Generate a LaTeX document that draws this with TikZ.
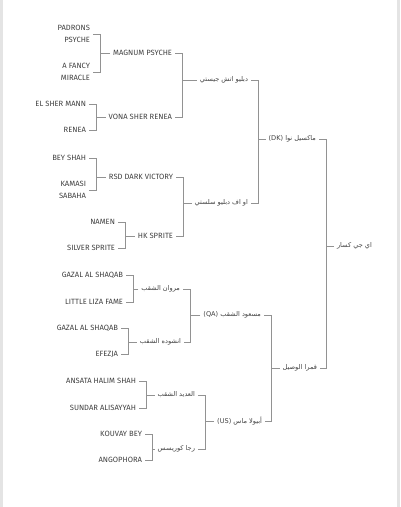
\documentclass[tikz,border=0pt]{standalone}
\usepackage{fontspec}
\setmainfont{Fira Sans}
\newfontfamily\arabicfont[Script=Arabic]{DejaVu Sans}
\TeXXeTstate=1
\usetikzlibrary{calc,positioning}
\definecolor{namegray}{HTML}{404040}
\definecolor{linkgray}{HTML}{929292}
\definecolor{framegray}{HTML}{E4E4E4}
\tikzset{
  horse/.style={font=\fontsize{7.6}{12}\selectfont, text=namegray,
    inner xsep=3pt, inner ysep=1pt, outer sep=0pt, anchor=east},
  arab/.style={horse, font=\arabicfont\fontsize{6.6}{8}\selectfont},
  link/.style={draw=linkgray, line width=0.6pt}
}

\begin{document}
\begin{tikzpicture}[x=1pt, y=-1pt]
  \useasboundingbox (0,0) rectangle (400,507);
  \fill[framegray] (0,0) rectangle (3,507);
  \fill[framegray] (397,0) rectangle (400,507);

  % great-grandparents
  \node[horse, align=right] (padrons) at (93,34) {PADRONS\\PSYCHE};
  \node[horse, align=right] (fancy) at (93,72) {A FANCY\\MIRACLE};
  \node[horse] (shermann) at (89,104) {EL SHER MANN};
  \node[horse] (renea) at (89,130) {RENEA};
  \node[horse] (beyshah) at (89,158) {BEY SHAH};
  \node[horse, align=right] (kamasi) at (89,190) {KAMASI\\SABAHA};
  \node[horse] (namen) at (118,222) {NAMEN};
  \node[horse] (silver) at (118,248) {SILVER SPRITE};
  \node[horse] (gazalA) at (126,275) {GAZAL AL SHAQAB};
  \node[horse] (liza) at (126,302) {LITTLE LIZA FAME};
  \node[horse] (gazalB) at (121,328) {GAZAL AL SHAQAB};
  \node[horse] (efezja) at (121,354) {EFEZJA};
  \node[horse] (ansata) at (139,381) {ANSATA HALIM SHAH};
  \node[horse] (sundar) at (139,408) {SUNDAR ALISAYYAH};
  \node[horse] (kouvay) at (145,434) {KOUVAY BEY};
  \node[horse] (angophora) at (145,460) {ANGOPHORA};

  % grandparents
  \node[horse] (magnum) at (175,53) {MAGNUM PSYCHE};
  \node[horse] (vona) at (175,117) {VONA SHER RENEA};
  \node[horse] (rsd) at (176,177) {RSD DARK VICTORY};
  \node[horse] (hksprite) at (176,236) {HK SPRITE};
  \node[arab] (marwan) at (183,289) {\beginR مروان الشقب\endR};
  \node[arab] (anshouda) at (184,342) {\beginR انشوده الشقب\endR};
  \node[arab] (adid) at (198,395) {\beginR العديد الشقب\endR};
  \node[arab] (raja) at (198,449) {\beginR رجا كوريسس\endR};

  % parents
  \node[arab] (jisti) at (251,80) {\beginR دبليو اتش جيستي\endR};
  \node[arab] (selesti) at (251,203) {\beginR او اف دبليو سلستي\endR};
  \node[arab] (masoud) at (264,315) {\beginR مسعود الشقب \beginL(QA)\endL\endR};
  \node[arab] (abiola) at (265,421) {\beginR أبيولا ماس \beginL(US)\endL\endR};

  % sire and dam
  \node[arab] (maxil) at (319,139) {\beginR ماكسيل نوا \beginL(DK)\endL\endR};
  \node[arab] (qamra) at (320,368) {\beginR قمرا الوصيل\endR};

  % horse
  \node[arab, anchor=west] (kassar) at (334,246) {\beginR اي جي كسار\endR};

  \foreach \a/\b/\p in {padrons/fancy/magnum, shermann/renea/vona,
      beyshah/kamasi/rsd, namen/silver/hksprite, gazalA/liza/marwan,
      gazalB/efezja/anshouda, ansata/sundar/adid, kouvay/angophora/raja,
      magnum/vona/jisti, rsd/hksprite/selesti, marwan/anshouda/masoud,
      adid/raja/abiola, jisti/selesti/maxil, masoud/abiola/qamra,
      maxil/qamra/kassar}
    \draw[link] (\a.east) -- ++(7.5,0) coordinate (br) |- (\b.east)
      (\p.west) -- (\p.west -| br);
\end{tikzpicture}
\end{document}
